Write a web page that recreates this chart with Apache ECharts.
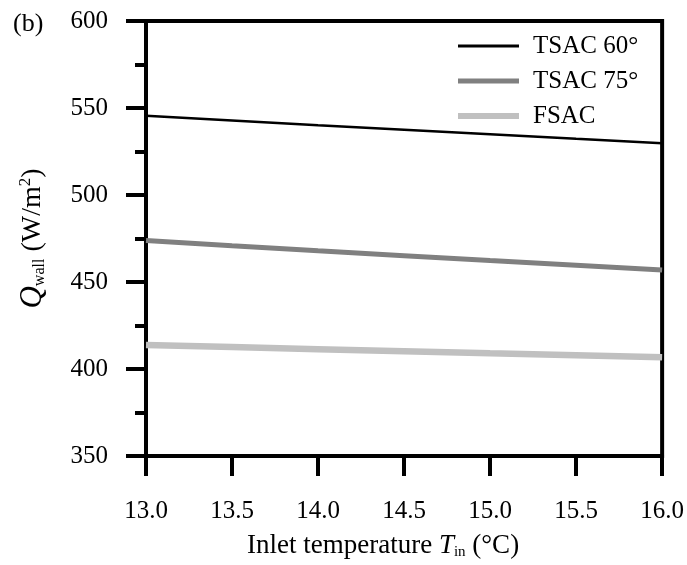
<!DOCTYPE html>
<html>
<head>
<meta charset="utf-8">
<script src="https://cdn.jsdelivr.net/npm/echarts@6/dist/echarts.min.js"></script>
<style>html,body{margin:0;padding:0;background:#fff}#c{width:687px;height:565px}</style>
</head>
<body>
<div id="c"></div>
<script>
const temps = [13.0, 13.5, 14.0, 14.5, 15.0, 15.5, 16.0];
const tsac60 = [545.5, 542.8, 540.1, 537.5, 534.9, 532.3, 529.8];
const tsac75 = [473.8, 470.8, 467.9, 465.1, 462.3, 459.6, 456.9];
const fsac = [413.8, 412.6, 411.4, 410.2, 409.0, 407.9, 406.8];
const seriesNames = ['TSAC 60°', 'TSAC 75°', 'FSAC'];
const panelLabel = '(b)';

const font = "'Liberation Serif', 'Times New Roman', serif";
const chart = echarts.init(document.getElementById('c'), null, {renderer: 'canvas'});
const mk = (arr) => temps.map((t, i) => [t, arr[i]]);
const lbl = {fontFamily: font, fontSize: 25, color: '#000'};
chart.setOption({
  backgroundColor: '#fff',
  animation: false,
  textStyle: {fontFamily: font, color: '#000'},
  title: {text: panelLabel, left: 8, top: 6, textStyle: {fontFamily: font, fontSize: 26, fontWeight: 'normal', color: '#000'}},
  grid: {left: 146, right: 23, top: 21, bottom: 108, show: true, borderColor: '#000', borderWidth: 4, backgroundColor: 'transparent'},
  legend: {
    left: 455, top: 33, padding: 0, orient: 'vertical', itemWidth: 61, itemHeight: 14, itemGap: 9,
    itemStyle: {opacity: 0},
    textStyle: {fontFamily: font, fontSize: 25, color: '#000', lineHeight: 26, padding: [0, 0, 0, 9]},
    data: [
      {name: seriesNames[0], lineStyle: {width: 3}},
      {name: seriesNames[1], lineStyle: {width: 5}},
      {name: seriesNames[2], lineStyle: {width: 6}}
    ]
  },
  xAxis: {
    type: 'value', min: 13, max: 16, interval: 0.5,
    axisLine: {show: true, lineStyle: {color: '#000', width: 4}},
    axisTick: {show: true, inside: false, length: 20, lineStyle: {color: '#000', width: 4}},
    axisLabel: {fontFamily: font, fontSize: 25, color: '#000', margin: 43,
      formatter: v => '{a|' + v.toFixed(1) + '}', rich: {a: lbl}},
    splitLine: {show: false},
    name: '{n|Inlet temperature }{i|T}{s|in}{n| (°C)}',
    nameLocation: 'middle', nameGap: 75,
    nameTextStyle: {padding: [0, 42, 0, 0], rich: {
      n: {fontFamily: font, fontSize: 27, color: '#000'},
      i: {fontFamily: font, fontSize: 27, fontStyle: 'italic', color: '#000'},
      s: {fontFamily: font, fontSize: 15, color: '#000', verticalAlign: 'bottom', padding: [14, 0, 0, 0]}
    }}
  },
  yAxis: {
    type: 'value', min: 350, max: 600, interval: 50,
    axisLine: {show: true, lineStyle: {color: '#000', width: 4}},
    axisTick: {show: true, inside: false, length: 20, lineStyle: {color: '#000', width: 4}},
    minorTick: {show: true, splitNumber: 2, length: 11, lineStyle: {color: '#000', width: 4}},
    axisLabel: {fontFamily: font, fontSize: 25, color: '#000', margin: 38,
      formatter: v => '{a|' + v + '}', rich: {a: lbl}},
    splitLine: {show: false},
    name: '{i|Q}{s|wall}{n| (W/m}{p|2}{n|)}',
    nameLocation: 'middle', nameGap: 98,
    nameTextStyle: {rich: {
      n: {fontFamily: font, fontSize: 28, color: '#000'},
      i: {fontFamily: font, fontSize: 31, fontStyle: 'italic', color: '#000'},
      s: {fontFamily: font, fontSize: 16, color: '#000', verticalAlign: 'bottom', padding: [14, 0, 0, 0]},
      p: {fontFamily: font, fontSize: 17, color: '#000', verticalAlign: 'top', padding: [0, 0, 12, 0]}
    }}
  },
  series: [
    {name: seriesNames[0], type: 'line', data: mk(tsac60), symbol: 'none', lineStyle: {color: '#000', width: 2.5}, itemStyle: {color: '#000'}},
    {name: seriesNames[1], type: 'line', data: mk(tsac75), symbol: 'none', lineStyle: {color: '#808080', width: 5}, itemStyle: {color: '#808080'}},
    {name: seriesNames[2], type: 'line', data: mk(fsac), symbol: 'none', lineStyle: {color: '#c0c0c0', width: 6.5}, itemStyle: {color: '#c0c0c0'}}
  ]
});
</script>
</body>
</html>
